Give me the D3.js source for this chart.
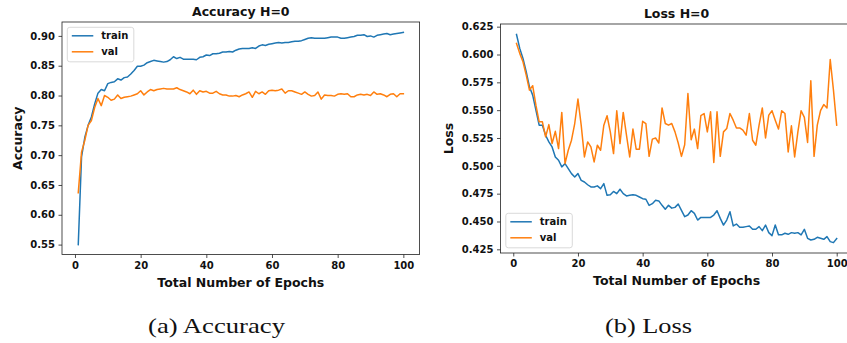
<!DOCTYPE html>
<html>
<head>
<meta charset="utf-8">
<script src="https://cdn.jsdelivr.net/npm/d3@7/dist/d3.min.js"></script>
<style>
  html, body { margin: 0; padding: 0; background: #fff; }
  svg { display: block; }
  text { fill: #111; }
</style>
</head>
<body>
<svg id="fig" width="847" height="343"></svg>
<script>
// Epoch numbers 1..100
const epochs = Array.from({length: 100}, (_, i) => i + 1);

// Accuracy per epoch
const accTrain = [
  0.550, 0.697, 0.730, 0.750, 0.764, 0.786, 0.804, 0.810, 0.808, 0.820,
  0.822, 0.823, 0.828, 0.826, 0.830, 0.831, 0.836, 0.842, 0.849, 0.849,
  0.851, 0.855, 0.857, 0.859, 0.858, 0.857, 0.856, 0.857, 0.860, 0.865,
  0.862, 0.864, 0.861, 0.861, 0.861, 0.861, 0.860, 0.864, 0.865, 0.868,
  0.867, 0.870, 0.870, 0.871, 0.873, 0.873, 0.874, 0.873, 0.876, 0.878,
  0.879, 0.879, 0.879, 0.880, 0.879, 0.883, 0.885, 0.884, 0.886, 0.887,
  0.888, 0.889, 0.888, 0.889, 0.889, 0.890, 0.891, 0.891, 0.892, 0.894,
  0.896, 0.897, 0.896, 0.896, 0.896, 0.896, 0.897, 0.898, 0.898, 0.898,
  0.896, 0.896, 0.897, 0.898, 0.899, 0.901, 0.901, 0.902, 0.899, 0.900,
  0.898, 0.901, 0.902, 0.903, 0.904, 0.902, 0.903, 0.904, 0.905, 0.906
];
const accVal = [
  0.637, 0.705, 0.725, 0.750, 0.758, 0.780, 0.795, 0.783, 0.800, 0.797,
  0.792, 0.794, 0.801, 0.795, 0.797, 0.798, 0.799, 0.801, 0.803, 0.808,
  0.801, 0.806, 0.810, 0.808, 0.810, 0.811, 0.812, 0.811, 0.811, 0.811,
  0.813, 0.810, 0.808, 0.806, 0.803, 0.809, 0.802, 0.808, 0.806, 0.807,
  0.804, 0.804, 0.807, 0.803, 0.801, 0.801, 0.799, 0.799, 0.800, 0.798,
  0.801, 0.803, 0.806, 0.797, 0.807, 0.803, 0.806, 0.802, 0.808, 0.809,
  0.808, 0.809, 0.811, 0.804, 0.808, 0.808, 0.806, 0.804, 0.802, 0.806,
  0.802, 0.799, 0.800, 0.806, 0.794, 0.801, 0.800, 0.800, 0.799, 0.802,
  0.803, 0.802, 0.803, 0.798, 0.798, 0.801, 0.802, 0.801, 0.802, 0.800,
  0.806, 0.802, 0.803, 0.801, 0.798, 0.802, 0.803, 0.798, 0.803, 0.803
];

// Loss per epoch
const lossTrain = [
  0.6180, 0.6055, 0.5965, 0.5845, 0.5710, 0.5635, 0.5500, 0.5365, 0.5365, 0.5275,
  0.5215, 0.5170, 0.5080, 0.5050, 0.4990, 0.5020, 0.4975, 0.4930, 0.4900, 0.4930,
  0.4870, 0.4855, 0.4830, 0.4810, 0.4810, 0.4820, 0.4795, 0.4840, 0.4735, 0.4740,
  0.4770, 0.4750, 0.4790, 0.4750, 0.4730, 0.4735, 0.4740, 0.4735, 0.4720, 0.4705,
  0.4700, 0.4645, 0.4660, 0.4690, 0.4685, 0.4645, 0.4610, 0.4645, 0.4620, 0.4627,
  0.4657, 0.4600, 0.4543, 0.4558, 0.4597, 0.4573, 0.4513, 0.4537, 0.4537, 0.4537,
  0.4537, 0.4558, 0.4597, 0.4528, 0.4468, 0.4513, 0.4588, 0.4460, 0.4477, 0.4448,
  0.4448, 0.4454, 0.4460, 0.4430, 0.4430, 0.4454, 0.4418, 0.4468, 0.4400, 0.4373,
  0.4468, 0.4380, 0.4380, 0.4394, 0.4385, 0.4400, 0.4394, 0.4400, 0.4380, 0.4430,
  0.4349, 0.4334, 0.4340, 0.4358, 0.4349, 0.4340, 0.4364, 0.4319, 0.4310, 0.4346
];
const lossVal = [
  0.6100, 0.6010, 0.5935, 0.5815, 0.5680, 0.5720, 0.5545, 0.5395, 0.5395, 0.5260,
  0.5370, 0.5200, 0.5310, 0.5155, 0.5480, 0.5020, 0.5140, 0.5230, 0.5380, 0.5600,
  0.5365, 0.5080, 0.5215, 0.5170, 0.5035, 0.5185, 0.5140, 0.5365, 0.5450, 0.5305,
  0.5110, 0.5495, 0.5200, 0.5480, 0.5275, 0.5080, 0.5330, 0.5150, 0.5150, 0.5400,
  0.5380, 0.5085, 0.5240, 0.5250, 0.5205, 0.5520, 0.5380, 0.5365, 0.5380, 0.5305,
  0.5205, 0.5085, 0.5190, 0.5650, 0.5235, 0.5330, 0.5155, 0.5450, 0.5470, 0.5305,
  0.5485, 0.5030, 0.5485, 0.5085, 0.5305, 0.5335, 0.5470, 0.5410, 0.5340, 0.5340,
  0.5320, 0.5275, 0.5470, 0.5230, 0.5185, 0.5365, 0.5520, 0.5250, 0.5455, 0.5495,
  0.5410, 0.5330, 0.5495, 0.5470, 0.5125, 0.5360, 0.5080, 0.5305, 0.5495, 0.5435,
  0.5210, 0.5765, 0.5085, 0.5365, 0.5495, 0.5550, 0.5520, 0.5955, 0.5680, 0.5365
];

const seriesNames = ["train", "val"];
const seriesColors = ["#1f77b4", "#ff7f0e"];
const xTicks = [0, 20, 40, 60, 80, 100];
const accTicks = [0.55, 0.60, 0.65, 0.70, 0.75, 0.80, 0.85, 0.90];
const lossTicks = [0.425, 0.450, 0.475, 0.500, 0.525, 0.550, 0.575, 0.600, 0.625];

const svg = d3.select("#fig");
const FONT = "'DejaVu Sans', sans-serif";

function drawPanel(opt) {
  const x = d3.scaleLinear().domain([-3.95, 104.95]).range([opt.left, opt.right]);
  const y = d3.scaleLinear().domain(opt.yDomain).range([opt.bottom, opt.top]);
  const g = svg.append("g");

  // clip region for plotted lines
  const clipId = "clip-" + opt.id;
  g.append("clipPath").attr("id", clipId)
    .append("rect")
    .attr("x", opt.left).attr("y", opt.top)
    .attr("width", opt.right - opt.left).attr("height", opt.bottom - opt.top);

  const line = d3.line().x((d, i) => x(epochs[i])).y(d => y(d));
  const plot = g.append("g").attr("clip-path", `url(#${clipId})`);
  opt.series.forEach((s, k) => {
    plot.append("path")
      .datum(s)
      .attr("d", line)
      .attr("fill", "none")
      .attr("stroke", seriesColors[k])
      .attr("stroke-width", 1.5)
      .attr("stroke-linejoin", "round")
      .attr("stroke-linecap", "square");
  });

  // axes
  const xAxis = d3.axisBottom(x).tickValues(xTicks).tickFormat(d3.format("d"))
    .tickSizeInner(3.5).tickSizeOuter(0).tickPadding(3.5);
  const yAxis = d3.axisLeft(y).tickValues(opt.yTicks).tickFormat(d3.format(opt.yFormat))
    .tickSizeInner(3.5).tickSizeOuter(0).tickPadding(3.5);

  const gx = g.append("g").attr("transform", `translate(0,${opt.bottom})`).call(xAxis);
  const gy = g.append("g").attr("transform", `translate(${opt.left},0)`).call(yAxis);
  [gx, gy].forEach(a => {
    a.select(".domain").remove();
    a.selectAll(".tick line").attr("stroke", "#222").attr("stroke-width", 0.8);
    a.selectAll(".tick text").attr("font-family", FONT).attr("font-weight", "bold")
      .attr("font-size", 10).attr("fill", "#111");
  });

  // frame
  g.append("rect")
    .attr("x", opt.left).attr("y", opt.top)
    .attr("width", opt.right - opt.left).attr("height", opt.bottom - opt.top)
    .attr("fill", "none").attr("stroke", "#222").attr("stroke-width", 0.8);

  const cx = (opt.left + opt.right) / 2;
  g.append("text").attr("x", cx).attr("y", opt.top - 6)
    .attr("text-anchor", "middle").attr("font-family", FONT).attr("font-weight", "bold")
    .attr("font-size", 12.5).text(opt.title);
  g.append("text").attr("x", cx).attr("y", opt.bottom + 32)
    .attr("text-anchor", "middle").attr("font-family", FONT).attr("font-weight", "bold")
    .attr("font-size", 12.5).text("Total Number of Epochs");
  g.append("text")
    .attr("transform", `translate(${opt.ylabelX},${(opt.top + opt.bottom) / 2}) rotate(-90)`)
    .attr("text-anchor", "middle").attr("font-family", FONT).attr("font-weight", "bold")
    .attr("font-size", 12.5).text(opt.ylabel);

  // legend
  const lg = g.append("g").attr("transform", `translate(${opt.left + 5.3},${opt.legendY})`);
  lg.append("rect").attr("x", 0).attr("y", 0).attr("width", 66.5).attr("height", 34.5)
    .attr("rx", 2.5).attr("fill", "#fff").attr("fill-opacity", 0.8)
    .attr("stroke", "#d0d0d0").attr("stroke-width", 0.8);
  seriesNames.forEach((name, k) => {
    const yy = 8.5 + k * 16;
    lg.append("line").attr("x1", 4.5).attr("x2", 26).attr("y1", yy).attr("y2", yy)
      .attr("stroke", seriesColors[k]).attr("stroke-width", 1.5);
    lg.append("text").attr("x", 34).attr("y", yy + 3.6)
      .attr("font-family", FONT).attr("font-weight", "bold").attr("font-size", 10)
      .text(name);
  });
}

drawPanel({
  id: "acc", left: 62, right: 419.6, top: 22, bottom: 254.5,
  yDomain: [0.5334, 0.9233], yTicks: accTicks, yFormat: ".2f",
  series: [accTrain, accVal], title: "Accuracy H=0", ylabel: "Accuracy",
  ylabelX: 22, legendY: 27.3
});

drawPanel({
  id: "loss", left: 500.5, right: 852.7, top: 24, bottom: 253,
  yDomain: [0.4217, 0.6274], yTicks: lossTicks, yFormat: ".3f",
  series: [lossTrain, lossVal], title: "Loss H=0", ylabel: "Loss",
  ylabelX: 453, legendY: 213.3
});

// sub-figure captions
const captions = [
  {text: "(a) Accuracy", cx: 216.5, w: 137},
  {text: "(b) Loss", cx: 648.5, w: 87}
];
captions.forEach(c => {
  svg.append("text").attr("x", c.cx - c.w / 2).attr("y", 333)
    .attr("font-family", "'Liberation Serif', serif").attr("font-size", 22)
    .attr("textLength", c.w).attr("lengthAdjust", "spacingAndGlyphs")
    .text(c.text);
});
</script>
</body>
</html>
